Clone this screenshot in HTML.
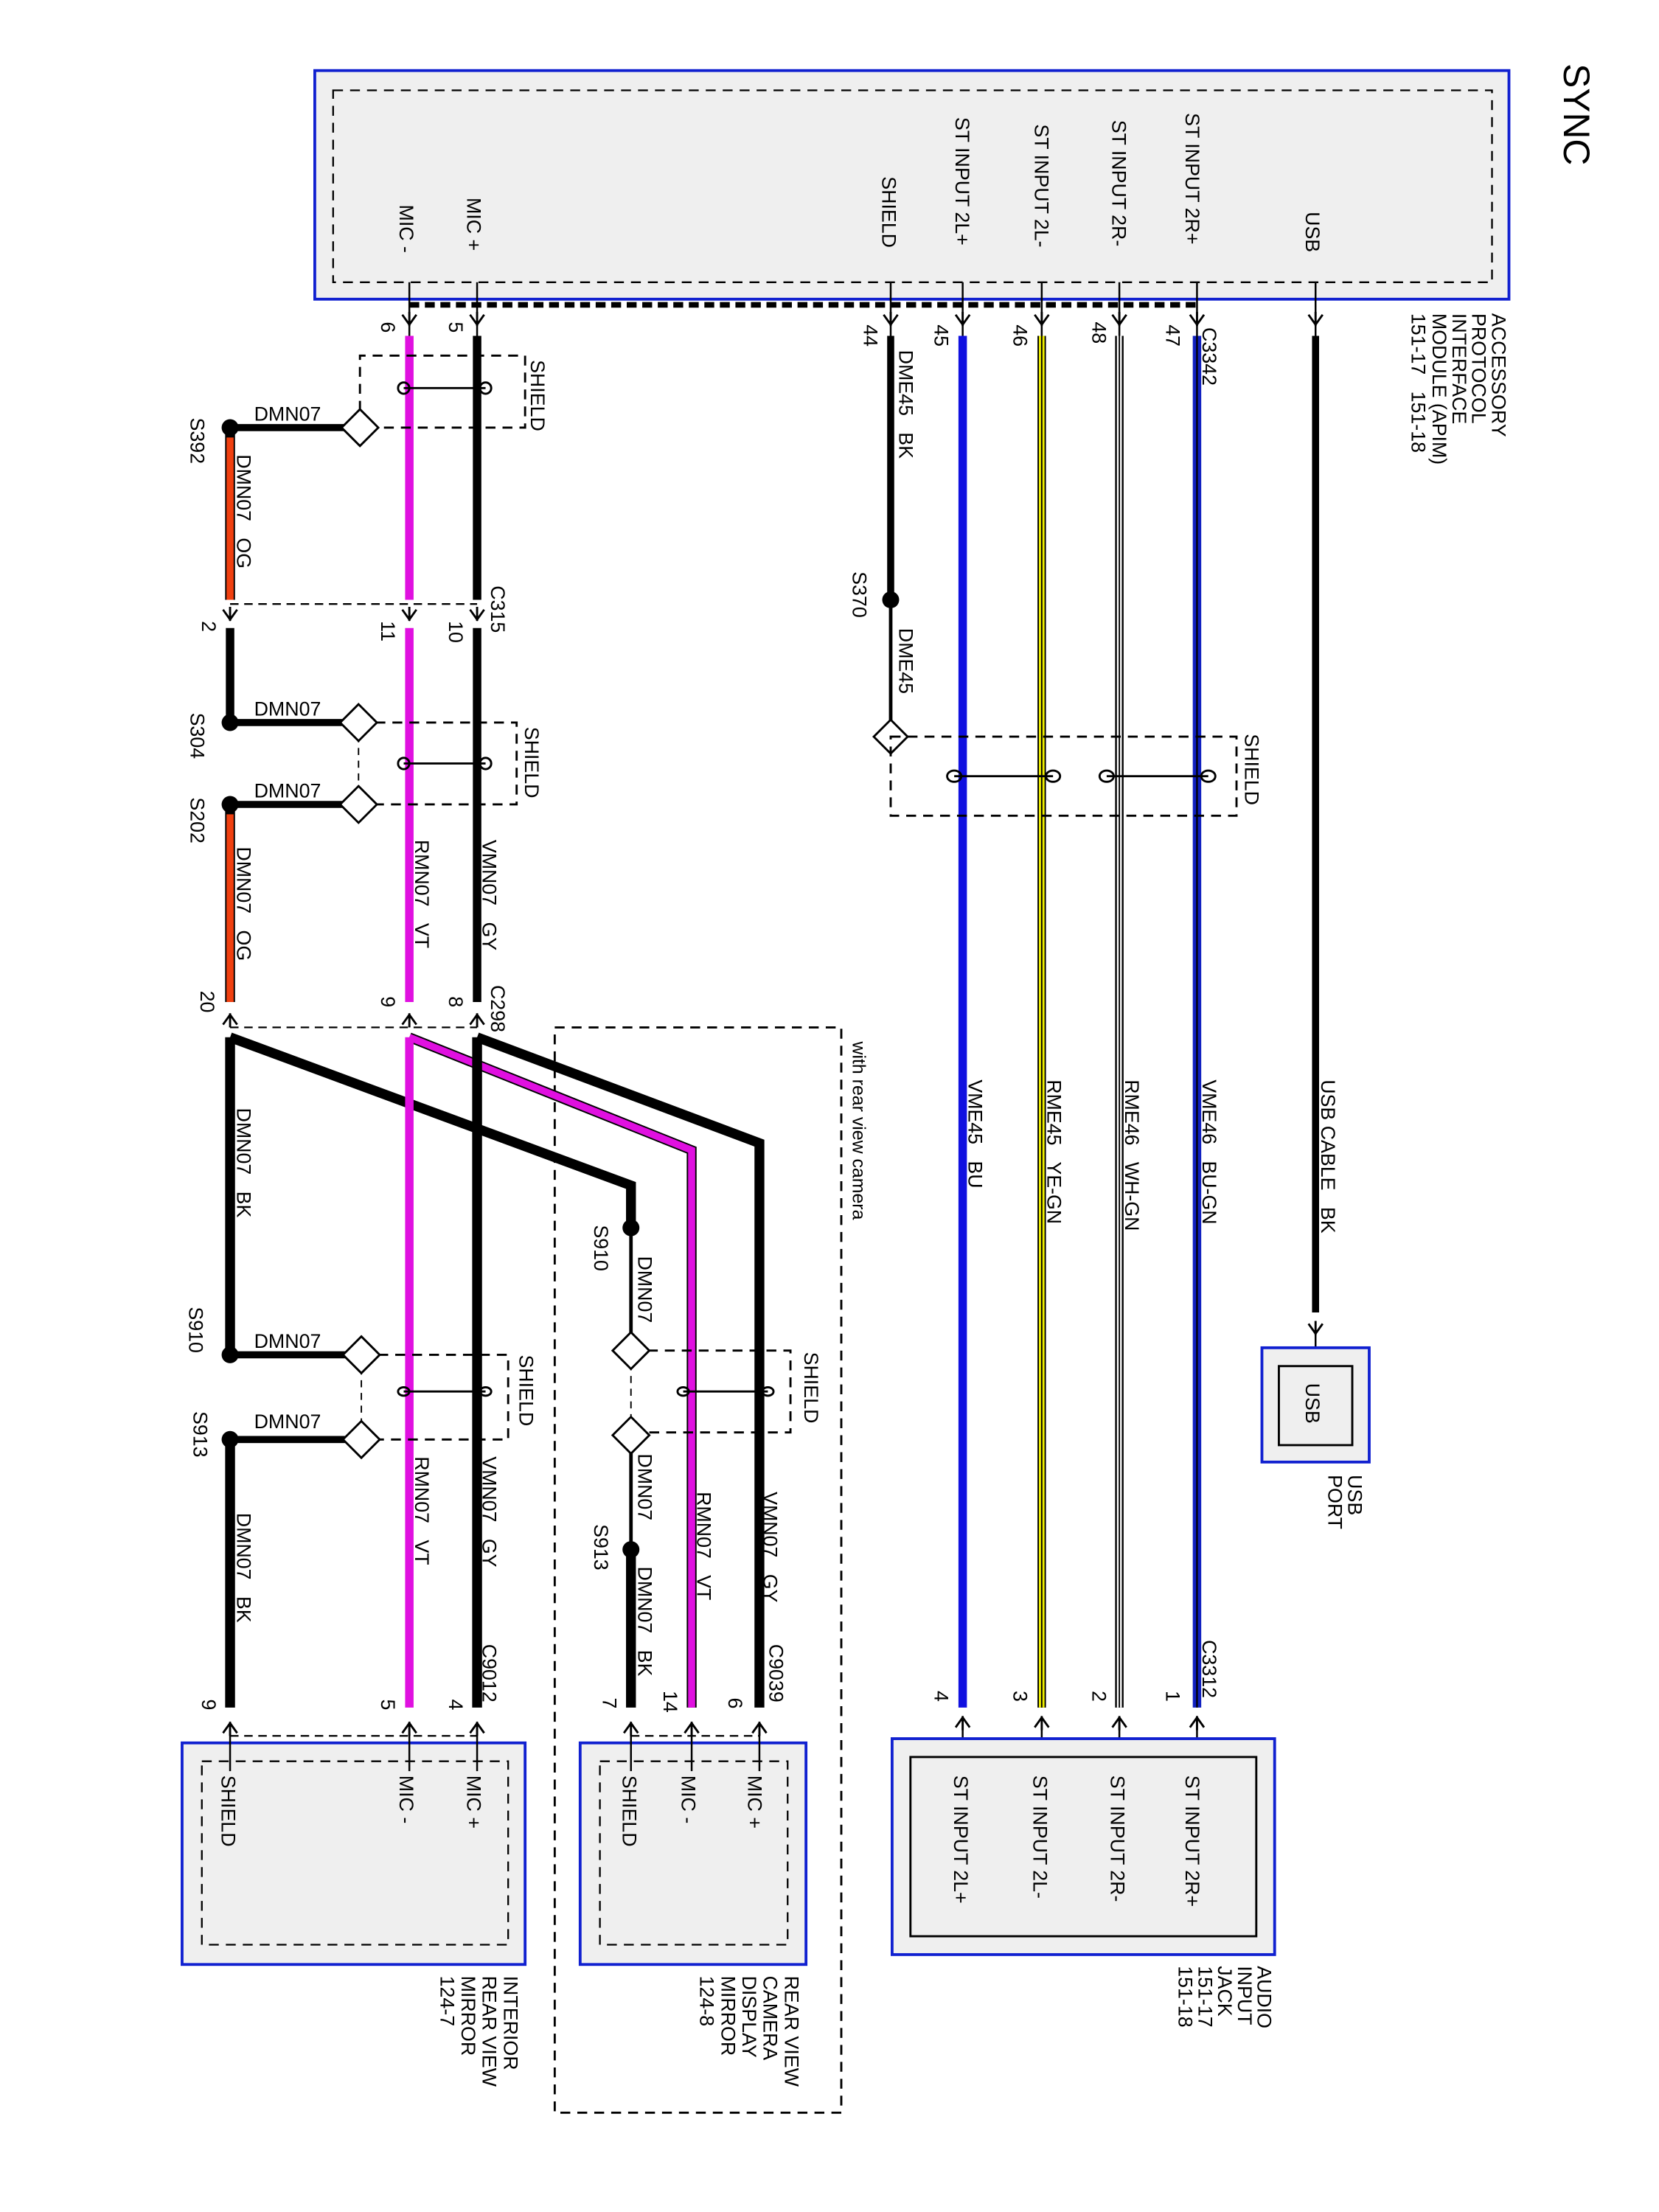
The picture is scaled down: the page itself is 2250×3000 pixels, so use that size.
<!DOCTYPE html>
<html><head><meta charset="utf-8"><style>
html,body{margin:0;padding:0;background:#fff;}
svg{display:block;}
text{font-family:"Liberation Sans",sans-serif;font-size:14px;fill:#000;white-space:pre;}
</style></head><body>
<svg width="2250" height="3000" viewBox="0 0 1175.3 1567.4" preserveAspectRatio="none" xmlns="http://www.w3.org/2000/svg" xml:space="preserve">
<defs>
<g id="ad"><path d="M-5,-6 L0,1 L5,-6 M0,-8 L0,2" stroke="#000" stroke-width="1.5" fill="none"/></g>
<g id="au"><path d="M-5,6 L0,-1 L5,6 M0,8 L0,-2" stroke="#000" stroke-width="1.5" fill="none"/></g>
</defs>
<rect width="1200" height="1600" fill="#fff"/>

<!-- SYNC module -->
<rect x="223" y="50" width="846" height="162" fill="#efefef" stroke="#1020d0" stroke-width="2"/>
<rect x="236" y="64" width="821" height="136" fill="none" stroke="#000" stroke-width="1.2" stroke-dasharray="7,5"/>
<g stroke="#000" stroke-width="1.3">
<line x1="290" y1="200" x2="290" y2="238"/><line x1="338" y1="200" x2="338" y2="238"/>
<line x1="631" y1="200" x2="631" y2="238"/><line x1="682" y1="200" x2="682" y2="238"/>
<line x1="738" y1="200" x2="738" y2="238"/><line x1="793" y1="200" x2="793" y2="238"/>
<line x1="848" y1="200" x2="848" y2="238"/><line x1="932" y1="200" x2="932" y2="238"/>
</g>
<line x1="290" y1="216" x2="848" y2="216" stroke="#000" stroke-width="4" stroke-dasharray="7,4"/>
<use href="#ad" x="290" y="229"/><use href="#ad" x="338" y="229"/><use href="#ad" x="631" y="229"/>
<use href="#ad" x="682" y="229"/><use href="#ad" x="738" y="229"/><use href="#ad" x="793" y="229"/>
<use href="#ad" x="848" y="229"/><use href="#ad" x="932" y="229"/>

<!-- right wires -->
<line x1="932" y1="238" x2="932" y2="930" stroke="#000" stroke-width="5"/>
<use href="#ad" x="932" y="944"/>
<line x1="932" y1="944" x2="932" y2="968" stroke="#000" stroke-width="1.3"/>
<line x1="848" y1="238" x2="848" y2="1210" stroke="#1020c0" stroke-width="6"/>
<line x1="848" y1="238" x2="848" y2="1210" stroke="#000" stroke-width="1.2"/>
<line x1="793" y1="238" x2="793" y2="1210" stroke="#000" stroke-width="6"/>
<line x1="793" y1="238" x2="793" y2="1210" stroke="#fff" stroke-width="3.5"/>
<line x1="793" y1="238" x2="793" y2="1210" stroke="#000" stroke-width="1"/>
<line x1="738" y1="238" x2="738" y2="1210" stroke="#000" stroke-width="6"/>
<line x1="738" y1="238" x2="738" y2="1210" stroke="#f0f000" stroke-width="4"/>
<line x1="738" y1="238" x2="738" y2="1210" stroke="#000" stroke-width="1"/>
<line x1="682" y1="238" x2="682" y2="1210" stroke="#1010e0" stroke-width="6"/>
<line x1="631" y1="238" x2="631" y2="425" stroke="#000" stroke-width="5"/>
<circle cx="631" cy="425" r="6" fill="#000"/>
<line x1="631" y1="425" x2="631" y2="514" stroke="#000" stroke-width="2.5"/>
<polygon points="631,510 643,522 631,534 619,522" fill="#fff" stroke="#000" stroke-width="1.5"/>
<path d="M631,522 H876 V578 H631 Z" fill="none" stroke="#000" stroke-width="1.5" stroke-dasharray="7,5"/>
<g stroke="#000" stroke-width="1.5" fill="none">
<line x1="676" y1="550" x2="746" y2="550"/><ellipse cx="676" cy="550" rx="5" ry="4"/><ellipse cx="746" cy="550" rx="5" ry="4"/>
<line x1="784" y1="550" x2="856" y2="550"/><ellipse cx="784" cy="550" rx="5" ry="4"/><ellipse cx="856" cy="550" rx="5" ry="4"/>
</g>
<use href="#au" x="682" y="1218"/><use href="#au" x="738" y="1218"/><use href="#au" x="793" y="1218"/><use href="#au" x="848" y="1218"/>
<g stroke="#000" stroke-width="1.3">
<line x1="682" y1="1218" x2="682" y2="1245"/><line x1="738" y1="1218" x2="738" y2="1245"/>
<line x1="793" y1="1218" x2="793" y2="1245"/><line x1="848" y1="1218" x2="848" y2="1245"/>
</g>

<!-- USB port -->
<rect x="894" y="955" width="76" height="81" fill="#efefef" stroke="#1020d0" stroke-width="2"/>
<rect x="906" y="968" width="52" height="56" fill="#efefef" stroke="#000" stroke-width="1.5"/>
<!-- audio jack -->
<rect x="632" y="1232" width="271" height="153" fill="#efefef" stroke="#1020d0" stroke-width="2"/>
<rect x="645" y="1245" width="245" height="127" fill="#efefef" stroke="#000" stroke-width="1.5"/>

<!-- left upper section -->
<line x1="338" y1="238" x2="338" y2="425" stroke="#000" stroke-width="6"/>
<line x1="290" y1="238" x2="290" y2="425" stroke="#e010e0" stroke-width="6"/>
<path d="M255,303 V252 H372 V303 H255" fill="none" stroke="#000" stroke-width="1.5" stroke-dasharray="7,5"/>
<g stroke="#000" stroke-width="1.5" fill="none"><line x1="286" y1="275" x2="344" y2="275"/><ellipse cx="286" cy="275" rx="4" ry="4"/><ellipse cx="344" cy="275" rx="4" ry="4"/></g>
<line x1="163" y1="303" x2="255" y2="303" stroke="#000" stroke-width="5"/>
<polygon points="255,290 268,303 255,316 242,303" fill="#fff" stroke="#000" stroke-width="1.5"/>
<circle cx="163" cy="303" r="6" fill="#000"/>
<line x1="163" y1="303" x2="163" y2="425" stroke="#000" stroke-width="7"/>
<line x1="163" y1="310" x2="163" y2="425" stroke="#f04010" stroke-width="5"/>
<line x1="163" y1="428" x2="338" y2="428" stroke="#000" stroke-width="1.2" stroke-dasharray="6,4"/>
<use href="#ad" x="163" y="438"/><use href="#ad" x="290" y="438"/><use href="#ad" x="338" y="438"/>

<line x1="338" y1="445" x2="338" y2="710" stroke="#000" stroke-width="6"/>
<line x1="290" y1="445" x2="290" y2="710" stroke="#e010e0" stroke-width="6"/>
<line x1="163" y1="445" x2="163" y2="512" stroke="#000" stroke-width="6"/>
<path d="M254,512 H366 V570 H254" fill="none" stroke="#000" stroke-width="1.5" stroke-dasharray="7,5"/>
<line x1="254" y1="512" x2="254" y2="570" stroke="#000" stroke-width="1" stroke-dasharray="5,4"/>
<g stroke="#000" stroke-width="1.5" fill="none"><line x1="286" y1="541" x2="344" y2="541"/><ellipse cx="286" cy="541" rx="4" ry="4"/><ellipse cx="344" cy="541" rx="4" ry="4"/></g>
<line x1="163" y1="512" x2="254" y2="512" stroke="#000" stroke-width="5"/>
<line x1="163" y1="570" x2="254" y2="570" stroke="#000" stroke-width="5"/>
<polygon points="254,499 267,512 254,525 241,512" fill="#fff" stroke="#000" stroke-width="1.5"/>
<polygon points="254,557 267,570 254,583 241,570" fill="#fff" stroke="#000" stroke-width="1.5"/>
<circle cx="163" cy="512" r="6" fill="#000"/><circle cx="163" cy="570" r="6" fill="#000"/>
<line x1="163" y1="570" x2="163" y2="710" stroke="#000" stroke-width="7"/>
<line x1="163" y1="577" x2="163" y2="710" stroke="#f04010" stroke-width="5"/>
<use href="#au" x="163" y="720"/><use href="#au" x="290" y="720"/><use href="#au" x="338" y="720"/>
<line x1="163" y1="728" x2="338" y2="728" stroke="#000" stroke-width="1.2" stroke-dasharray="6,4"/>

<!-- rear view camera dashed region -->
<rect x="393" y="728" width="203" height="769" fill="none" stroke="#000" stroke-width="1.5" stroke-dasharray="7,5"/>

<!-- lower wires -->
<polyline points="163,735 447,840 447,870" fill="none" stroke="#000" stroke-width="7"/>
<polyline points="290,735 490,815 490,1210" fill="none" stroke="#000" stroke-width="7"/>
<polyline points="290,735 490,815 490,1210" fill="none" stroke="#e010e0" stroke-width="5"/>
<polyline points="338,735 538,810 538,1210" fill="none" stroke="#000" stroke-width="7"/>
<line x1="163" y1="735" x2="163" y2="960" stroke="#000" stroke-width="7"/>
<line x1="290" y1="735" x2="290" y2="1210" stroke="#e010e0" stroke-width="6"/>
<line x1="338" y1="735" x2="338" y2="1210" stroke="#000" stroke-width="7"/>

<!-- lower left shield -->
<path d="M256,960 H360 V1020 H256" fill="none" stroke="#000" stroke-width="1.5" stroke-dasharray="7,5"/>
<line x1="256" y1="960" x2="256" y2="1020" stroke="#000" stroke-width="1" stroke-dasharray="5,4"/>
<g stroke="#000" stroke-width="1.5" fill="none"><line x1="286" y1="986" x2="344" y2="986"/><ellipse cx="286" cy="986" rx="4" ry="3"/><ellipse cx="344" cy="986" rx="4" ry="3"/></g>
<line x1="163" y1="960" x2="256" y2="960" stroke="#000" stroke-width="5"/>
<line x1="163" y1="1020" x2="256" y2="1020" stroke="#000" stroke-width="5"/>
<polygon points="256,947 269,960 256,973 243,960" fill="#fff" stroke="#000" stroke-width="1.5"/>
<polygon points="256,1007 269,1020 256,1033 243,1020" fill="#fff" stroke="#000" stroke-width="1.5"/>
<circle cx="163" cy="960" r="6" fill="#000"/><circle cx="163" cy="1020" r="6" fill="#000"/>
<line x1="163" y1="1020" x2="163" y2="1210" stroke="#000" stroke-width="7"/>

<!-- lower right shield -->
<circle cx="447" cy="870" r="6" fill="#000"/>
<line x1="447" y1="870" x2="447" y2="1098" stroke="#000" stroke-width="2.5"/>
<path d="M447,957 H560 V1015 H447" fill="none" stroke="#000" stroke-width="1.5" stroke-dasharray="7,5"/>
<line x1="447" y1="957" x2="447" y2="1015" stroke="#fff" stroke-width="3"/>
<line x1="447" y1="957" x2="447" y2="1015" stroke="#000" stroke-width="1" stroke-dasharray="5,4"/>
<g stroke="#000" stroke-width="1.5" fill="none"><line x1="484" y1="986" x2="544" y2="986"/><ellipse cx="484" cy="986" rx="4" ry="3"/><ellipse cx="544" cy="986" rx="4" ry="3"/></g>
<polygon points="447,944 460,957 447,970 434,957" fill="#fff" stroke="#000" stroke-width="1.5"/>
<polygon points="447,1004 460,1017 447,1030 434,1017" fill="#fff" stroke="#000" stroke-width="1.5"/>
<circle cx="447" cy="1098" r="6" fill="#000"/>
<line x1="447" y1="1098" x2="447" y2="1210" stroke="#000" stroke-width="7"/>

<use href="#au" x="163" y="1222"/><use href="#au" x="290" y="1222"/><use href="#au" x="338" y="1222"/>
<use href="#au" x="447" y="1222"/><use href="#au" x="490" y="1222"/><use href="#au" x="538" y="1222"/>
<line x1="163" y1="1230" x2="338" y2="1230" stroke="#000" stroke-width="1.2" stroke-dasharray="6,4"/>
<line x1="447" y1="1230" x2="538" y2="1230" stroke="#000" stroke-width="1.2" stroke-dasharray="6,4"/>

<!-- bottom boxes -->
<rect x="129" y="1235" width="243" height="157" fill="#efefef" stroke="#1020d0" stroke-width="2"/>
<rect x="143" y="1248" width="217" height="130" fill="none" stroke="#000" stroke-width="1.2" stroke-dasharray="7,5"/>
<rect x="411" y="1235" width="160" height="157" fill="#efefef" stroke="#1020d0" stroke-width="2"/>
<rect x="425" y="1248" width="133" height="130" fill="none" stroke="#000" stroke-width="1.2" stroke-dasharray="7,5"/>
<g stroke="#000" stroke-width="1.3">
<line x1="163" y1="1222" x2="163" y2="1255"/><line x1="290" y1="1222" x2="290" y2="1255"/><line x1="338" y1="1222" x2="338" y2="1255"/>
<line x1="447" y1="1222" x2="447" y2="1255"/><line x1="490" y1="1222" x2="490" y2="1255"/><line x1="538" y1="1222" x2="538" y2="1255"/>
</g>

<!-- rotated labels -->
<g>
<text transform="translate(1108,45) rotate(90)" style="font-size:26px">SYNC</text>
<text transform="translate(283,145) rotate(90)">MIC -</text>
<text transform="translate(331,140) rotate(90)">MIC +</text>
<text transform="translate(625,125) rotate(90)">SHIELD</text>
<text transform="translate(677,83) rotate(90)">ST INPUT 2L+</text>
<text transform="translate(733,88) rotate(90)">ST INPUT 2L-</text>
<text transform="translate(788,85) rotate(90)">ST INPUT 2R-</text>
<text transform="translate(840,80) rotate(90)">ST INPUT 2R+</text>
<text transform="translate(925,150) rotate(90)">USB</text>
<text transform="translate(1057,222) rotate(90)">ACCESSORY</text>
<text transform="translate(1043,222) rotate(90)">PROTOCOL</text>
<text transform="translate(1029,222) rotate(90)">INTERFACE</text>
<text transform="translate(1015,222) rotate(90)">MODULE (APIM)</text>
<text transform="translate(1000,222) rotate(90)">151-17   151-18</text>
<text transform="translate(270,228) rotate(90)">6</text>
<text transform="translate(318,228) rotate(90)">5</text>
<text transform="translate(612,230) rotate(90)">44</text>
<text transform="translate(662,230) rotate(90)">45</text>
<text transform="translate(718,230) rotate(90)">46</text>
<text transform="translate(774,228) rotate(90)">48</text>
<text transform="translate(826,230) rotate(90)">47</text>
<text transform="translate(852,232) rotate(90)">C3342</text>
<text transform="translate(637,248) rotate(90)">DME45   BK</text>
<text transform="translate(604,405) rotate(90)">S370</text>
<text transform="translate(637,445) rotate(90)">DME45</text>
<text transform="translate(882,520) rotate(90)">SHIELD</text>
<text transform="translate(686,765) rotate(90)">VME45   BU</text>
<text transform="translate(742,765) rotate(90)">RME45   YE-GN</text>
<text transform="translate(797,765) rotate(90)">RME46   WH-GN</text>
<text transform="translate(852,765) rotate(90)">VME46   BU-GN</text>
<text transform="translate(936,765) rotate(90)">USB CABLE   BK</text>
<text transform="translate(604,738) rotate(90)" style="font-size:13px">with rear view camera</text>
<text transform="translate(925,980) rotate(90)">USB</text>
<text transform="translate(955,1045) rotate(90)">USB</text>
<text transform="translate(941,1045) rotate(90)">PORT</text>
<text transform="translate(662,1198) rotate(90)">4</text>
<text transform="translate(718,1198) rotate(90)">3</text>
<text transform="translate(774,1198) rotate(90)">2</text>
<text transform="translate(826,1198) rotate(90)">1</text>
<text transform="translate(852,1162) rotate(90)">C3312</text>
<text transform="translate(676,1258) rotate(90)">ST INPUT 2L+</text>
<text transform="translate(732,1258) rotate(90)">ST INPUT 2L-</text>
<text transform="translate(787,1258) rotate(90)">ST INPUT 2R-</text>
<text transform="translate(840,1258) rotate(90)">ST INPUT 2R+</text>
<text transform="translate(891,1393) rotate(90)">AUDIO</text>
<text transform="translate(877,1393) rotate(90)">INPUT</text>
<text transform="translate(863,1393) rotate(90)">JACK</text>
<text transform="translate(849,1393) rotate(90)">151-17</text>
<text transform="translate(835,1393) rotate(90)">151-18</text>

<text transform="translate(376,255) rotate(90)">SHIELD</text>
<text transform="translate(135,296) rotate(90)">S392</text>
<text transform="translate(168,322) rotate(90)">DMN07   OG</text>
<text transform="translate(348,415) rotate(90)">C315</text>
<text transform="translate(143,440) rotate(90)">2</text>
<text transform="translate(270,440) rotate(90)">11</text>
<text transform="translate(318,440) rotate(90)">10</text>
<text transform="translate(135,505) rotate(90)">S304</text>
<text transform="translate(372,515) rotate(90)">SHIELD</text>
<text transform="translate(135,565) rotate(90)">S202</text>
<text transform="translate(168,600) rotate(90)">DMN07   OG</text>
<text transform="translate(342,595) rotate(90)">VMN07   GY</text>
<text transform="translate(294,595) rotate(90)">RMN07   VT</text>
<text transform="translate(142,702) rotate(90)">20</text>
<text transform="translate(270,706) rotate(90)">9</text>
<text transform="translate(318,706) rotate(90)">8</text>
<text transform="translate(348,698) rotate(90)">C298</text>
<text transform="translate(168,785) rotate(90)">DMN07   BK</text>
<text transform="translate(134,926) rotate(90)">S910</text>
<text transform="translate(137,1000) rotate(90)">S913</text>
<text transform="translate(368,960) rotate(90)">SHIELD</text>
<text transform="translate(342,1032) rotate(90)">VMN07   GY</text>
<text transform="translate(294,1032) rotate(90)">RMN07   VT</text>
<text transform="translate(168,1072) rotate(90)">DMN07   BK</text>
<text transform="translate(342,1165) rotate(90)">C9012</text>
<text transform="translate(143,1204) rotate(90)">9</text>
<text transform="translate(270,1204) rotate(90)">5</text>
<text transform="translate(318,1204) rotate(90)">4</text>
<text transform="translate(421,868) rotate(90)">S910</text>
<text transform="translate(452,890) rotate(90)">DMN07</text>
<text transform="translate(570,958) rotate(90)">SHIELD</text>
<text transform="translate(452,1030) rotate(90)">DMN07</text>
<text transform="translate(421,1080) rotate(90)">S913</text>
<text transform="translate(452,1110) rotate(90)">DMN07   BK</text>
<text transform="translate(494,1057) rotate(90)">RMN07   VT</text>
<text transform="translate(541,1057) rotate(90)">VMN07   GY</text>
<text transform="translate(545,1165) rotate(90)">C9039</text>
<text transform="translate(427,1203) rotate(90)">7</text>
<text transform="translate(470,1198) rotate(90)">14</text>
<text transform="translate(516,1203) rotate(90)">6</text>
<text transform="translate(157,1258) rotate(90)">SHIELD</text>
<text transform="translate(283,1258) rotate(90)">MIC -</text>
<text transform="translate(331,1258) rotate(90)">MIC +</text>
<text transform="translate(441,1258) rotate(90)">SHIELD</text>
<text transform="translate(483,1258) rotate(90)">MIC -</text>
<text transform="translate(530,1258) rotate(90)">MIC +</text>
<text transform="translate(357,1400) rotate(90)">INTERIOR</text>
<text transform="translate(342,1400) rotate(90)">REAR VIEW</text>
<text transform="translate(327,1400) rotate(90)">MIRROR</text>
<text transform="translate(312,1400) rotate(90)">124-7</text>
<text transform="translate(556,1400) rotate(90)">REAR VIEW</text>
<text transform="translate(541,1400) rotate(90)">CAMERA</text>
<text transform="translate(526,1400) rotate(90)">DISPLAY</text>
<text transform="translate(511,1400) rotate(90)">MIRROR</text>
<text transform="translate(496,1400) rotate(90)">124-8</text>
</g>
<!-- horizontal labels -->
<text x="180" y="298">DMN07</text>
<text x="180" y="507">DMN07</text>
<text x="180" y="565">DMN07</text>
<text x="180" y="955">DMN07</text>
<text x="180" y="1012">DMN07</text>
</svg>
</body></html>
